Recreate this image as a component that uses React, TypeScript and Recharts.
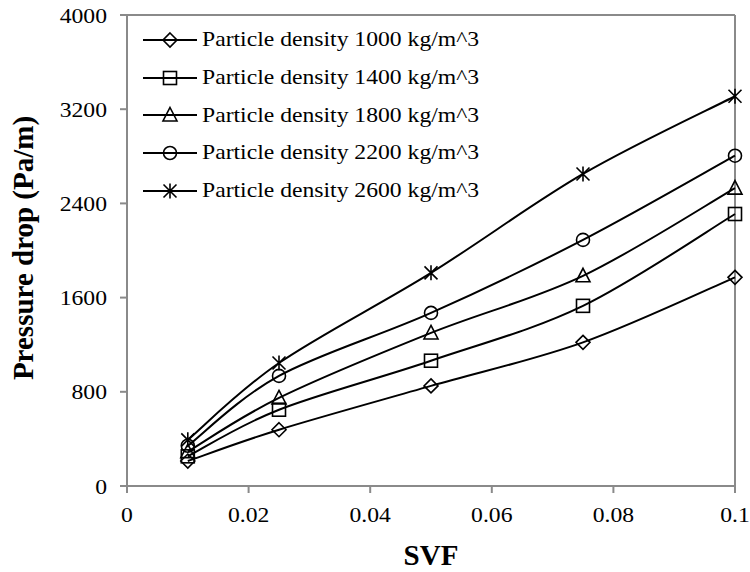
import React from 'react';
import { LineChart, Line, XAxis, YAxis, Legend, ReferenceLine, Label } from 'recharts';

const SVF = [0.01, 0.025, 0.05, 0.075, 0.1];
const D1000 = [212, 478, 850, 1220, 1772];
const D1400 = [252, 648, 1064, 1530, 2310];
const D1800 = [292, 748, 1300, 1785, 2530];
const D2200 = [342, 935, 1470, 2090, 2805];
const D2600 = [392, 1045, 1810, 2650, 3310];

const X_TICKS = [0, 0.02, 0.04, 0.06, 0.08, 0.1];
const Y_TICKS = [0, 800, 1600, 2400, 3200, 4000];

const SERIES = [
  { key: 'd1000', name: 'Particle density 1000 kg/m^3', shape: 'diamond', values: D1000 },
  { key: 'd1400', name: 'Particle density 1400 kg/m^3', shape: 'square', values: D1400 },
  { key: 'd1800', name: 'Particle density 1800 kg/m^3', shape: 'triangle', values: D1800 },
  { key: 'd2200', name: 'Particle density 2200 kg/m^3', shape: 'circle', values: D2200 },
  { key: 'd2600', name: 'Particle density 2600 kg/m^3', shape: 'star', values: D2600 },
];

const data = SVF.map((x, i) => {
  const row: Record<string, number> = { svf: x };
  SERIES.forEach((s) => { row[s.key] = s.values[i]; });
  return row;
});

const FONT = '"Liberation Serif", "Times New Roman", serif';
const AXIS = '#8a8a8a';
const TXT = 21.5;
const STRETCH = 1.1; // text in the source is slightly wide

// Excel-style smoothed line (Catmull-Rom as cubic bezier)
const excelSmooth: any = (context: any) => {
  let pts: number[][] = [];
  return {
    areaStart() {},
    areaEnd() {},
    lineStart() { pts = []; },
    point(x: number, y: number) { pts.push([+x, +y]); },
    lineEnd() {
      if (!pts.length) return;
      context.moveTo(pts[0][0], pts[0][1]);
      for (let i = 0; i < pts.length - 1; i++) {
        const p0 = pts[i - 1] || pts[i];
        const p1 = pts[i];
        const p2 = pts[i + 1];
        const p3 = pts[i + 2] || p2;
        context.bezierCurveTo(
          p1[0] + (p2[0] - p0[0]) / 6, p1[1] + (p2[1] - p0[1]) / 6,
          p2[0] - (p3[0] - p1[0]) / 6, p2[1] - (p3[1] - p1[1]) / 6,
          p2[0], p2[1],
        );
      }
    },
  };
};

function Marker({ cx, cy, shape }: { cx: number; cy: number; shape: string }) {
  const p = { fill: 'none', stroke: '#000', strokeWidth: 1.6 };
  if (shape === 'diamond') {
    return <path d={`M${cx},${cy - 7}L${cx + 7},${cy}L${cx},${cy + 7}L${cx - 7},${cy}Z`} {...p} />;
  }
  if (shape === 'square') {
    return <rect x={cx - 6.5} y={cy - 6.5} width={13} height={13} {...p} />;
  }
  if (shape === 'triangle') {
    return <path d={`M${cx},${cy - 7.5}L${cx + 7},${cy + 6}L${cx - 7},${cy + 6}Z`} {...p} />;
  }
  if (shape === 'circle') {
    return <circle cx={cx} cy={cy} r={6.5} {...p} />;
  }
  return (
    <path
      d={`M${cx},${cy - 7.5}L${cx},${cy + 7.5}M${cx - 6.5},${cy - 6.5}L${cx + 6.5},${cy + 6.5}M${cx + 6.5},${cy - 6.5}L${cx - 6.5},${cy + 6.5}`}
      {...p}
    />
  );
}

const XTick = (props: any) => (
  <text
    transform={`translate(${props.x},${props.y}) scale(${STRETCH},1)`}
    dy="0.71em"
    textAnchor="middle"
    fontFamily={FONT}
    fontSize={TXT}
    fill="#000"
  >
    {props.payload.value}
  </text>
);

const YTick = (props: any) => (
  <text
    transform={`translate(${props.x},${props.y}) scale(${STRETCH},1)`}
    dy="0.35em"
    textAnchor="end"
    fontFamily={FONT}
    fontSize={TXT}
    fill="#000"
  >
    {props.payload.value}
  </text>
);

const renderLegend = () => (
  <div style={{ fontFamily: FONT, fontSize: TXT, color: '#000' }}>
    {SERIES.map((s) => (
      <div key={s.key} style={{ display: 'flex', alignItems: 'center', height: 37.7, whiteSpace: 'nowrap' }}>
        <svg width={54} height={20} style={{ overflow: 'visible' }}>
          <line x1={0} y1={10} x2={54} y2={10} stroke="#000" strokeWidth={2} />
          <Marker cx={27} cy={10} shape={s.shape} />
        </svg>
        <span style={{ marginLeft: 5, display: 'inline-block', transform: `scaleX(${STRETCH})`, transformOrigin: 'left center' }}>
          {s.name}
        </span>
      </div>
    ))}
  </div>
);

export default function App() {
  return (
    <div style={{ position: 'absolute', left: 0, top: 0, background: '#fff', fontFamily: FONT }}>
      <LineChart width={750} height={572} data={data} margin={{ top: 15, right: 15, left: 0, bottom: 0 }}>
        <XAxis
          dataKey="svf"
          type="number"
          domain={[0, 0.1]}
          ticks={X_TICKS}
          height={86}
          stroke={AXIS}
          strokeWidth={2}
          tickSize={7}
          tickMargin={14}
          tick={XTick}
        >
          <Label
            content={() => (
              <text x={431} y={565} textAnchor="middle" fontFamily={FONT} fontWeight="bold" fontSize={29} fill="#000">
                SVF
              </text>
            )}
          />
        </XAxis>
        <YAxis
          type="number"
          domain={[0, 4000]}
          ticks={Y_TICKS}
          width={127}
          stroke={AXIS}
          strokeWidth={2}
          tickSize={7}
          tickMargin={13}
          tick={YTick}
        >
          <Label
            content={() => (
              <text
                transform="translate(33, 248) rotate(-90)"
                textAnchor="middle"
                fontFamily={FONT}
                fontWeight="bold"
                fontSize={29}
                fill="#000"
              >
                Pressure drop (Pa/m)
              </text>
            )}
          />
        </YAxis>
        <ReferenceLine y={4000} stroke={AXIS} strokeWidth={2} />
        <ReferenceLine x={0.1} stroke={AXIS} strokeWidth={2} />
        <Legend
          layout="vertical"
          align="center"
          verticalAlign="middle"
          content={renderLegend}
          wrapperStyle={{ left: 143, top: 21, width: 'auto' }}
        />
        {SERIES.map((s) => (
          <Line
            key={s.key}
            type={excelSmooth}
            dataKey={s.key}
            name={s.name}
            stroke="#000"
            strokeWidth={2}
            isAnimationActive={false}
            dot={(props: any) => <Marker key={`${s.key}-${props.index}`} cx={props.cx} cy={props.cy} shape={s.shape} />}
            activeDot={false}
          />
        ))}
      </LineChart>
    </div>
  );
}
